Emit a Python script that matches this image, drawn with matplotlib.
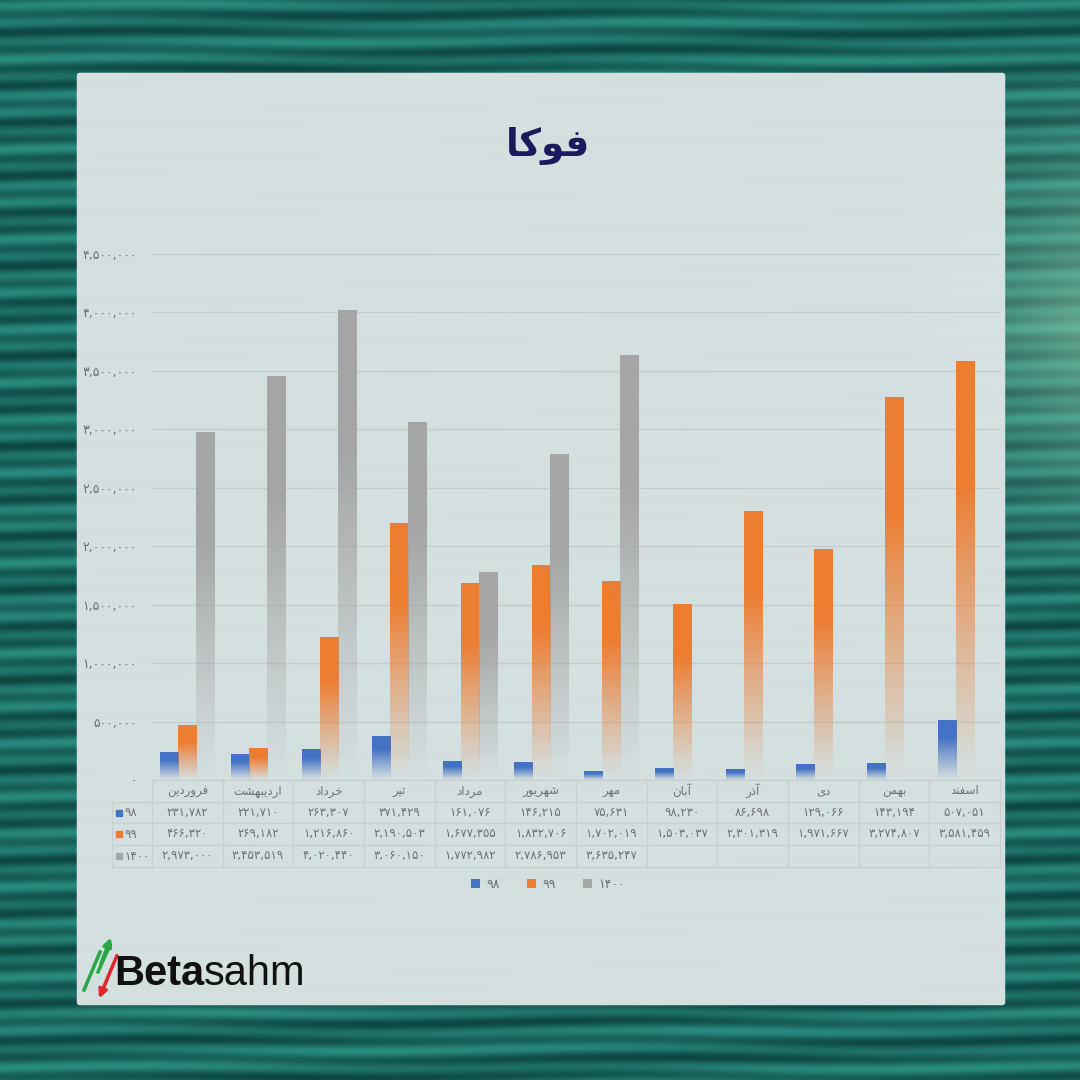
import numpy as np
import matplotlib
matplotlib.use("Agg")
import matplotlib.pyplot as plt
from matplotlib.patches import FancyBboxPatch, Patch
from matplotlib.transforms import blended_transform_factory
from matplotlib.colors import to_rgb
from matplotlib import font_manager
from matplotlib.ft2font import FT2Font

# داده ها
months = ['فروردین', 'اردیبهشت', 'خرداد', 'تیر', 'مرداد', 'شهریور',
          'مهر', 'آبان', 'آذر', 'دی', 'بهمن', 'اسفند']
s98 = [231782, 221710, 263307, 371429, 161076, 146215,
       75631, 98230, 86698, 129066, 143194, 507051]
s99 = [466320, 269182, 1216860, 2190503, 1677355, 1832706,
       1702019, 1503037, 2301319, 1971667, 3274807, 3581459]
s1400 = [2973000, 3453519, 4020440, 3060150, 1772982, 2786953,
         3635247, None, None, None, None, None]
series_names = ['98', '99', '1400']
yticks = [0, 500000, 1000000, 1500000, 2000000, 2500000,
          3000000, 3500000, 4000000, 4500000]
title = 'فوکا'

colors = ['#4472c4', '#ed7d31', '#a5a5a5']
text_gray = '#707070'

# --- شکل دهی حروف فارسی (matplotlib خودش حروف را نمی چسباند) ---
reg_cmap = FT2Font(font_manager.findfont('DejaVu Sans')).get_charmap()
bold_path = font_manager.findfont(font_manager.FontProperties(family='DejaVu Sans', weight='bold'))
bold_cmap = FT2Font(bold_path).get_charmap()

FORMS = {
    'ا': ('\uFE8D', '\uFE8E', None, None),
    'آ': ('\uFE81', '\uFE82', None, None),
    'ب': ('\uFE8F', '\uFE90', '\uFE91', '\uFE92'),
    'ت': ('\uFE95', '\uFE96', '\uFE97', '\uFE98'),
    'خ': ('\uFEA5', '\uFEA6', '\uFEA7', '\uFEA8'),
    'د': ('\uFEA9', '\uFEAA', None, None),
    'ذ': ('\uFEAB', '\uFEAC', None, None),
    'ر': ('\uFEAD', '\uFEAE', None, None),
    'س': ('\uFEB1', '\uFEB2', '\uFEB3', '\uFEB4'),
    'ش': ('\uFEB5', '\uFEB6', '\uFEB7', '\uFEB8'),
    'ف': ('\uFED1', '\uFED2', '\uFED3', '\uFED4'),
    'م': ('\uFEE1', '\uFEE2', '\uFEE3', '\uFEE4'),
    'ن': ('\uFEE5', '\uFEE6', '\uFEE7', '\uFEE8'),
    'ه': ('\uFEE9', '\uFEEA', '\uFEEB', '\uFEEC'),
    'و': ('\uFEED', '\uFEEE', None, None),
    'ی': ('\uFBFC', '\uFBFD', '\uFBFE', '\uFBFF'),
    'ک': ('\uFB8E', '\uFB8F', '\uFB90', '\uFB91'),
}
FALLBACK = {
    'ی': ('\uFEEF', '\uFEF0', '\uFEF3', '\uFEF4'),
    'ک': ('\uFED9', '\uFEDA', '\uFEDB', '\uFEDC'),
}
DUAL = set('بتخسشفکمنهی')


def shape(word, cmap=reg_cmap):
    out = []
    for i, ch in enumerate(word):
        forms = FORMS[ch]
        if ord(forms[0]) not in cmap and ch in FALLBACK:
            forms = FALLBACK[ch]
        prev_j = i > 0 and word[i - 1] in DUAL
        next_j = ch in DUAL and i < len(word) - 1 and word[i + 1] in FORMS
        if prev_j and next_j:
            g = forms[3]
        elif prev_j:
            g = forms[1]
        elif next_j:
            g = forms[2]
        else:
            g = forms[0]
        out.append(g)
    return ''.join(reversed(out))


fa = str.maketrans('0123456789', '۰۱۲۳۴۵۶۷۸۹')


def fnum(v):
    return '{:,}'.format(v).translate(fa)


def fx(px):
    return px / 1080


def fy(py):
    return 1 - py / 1080


fig = plt.figure(figsize=(10.8, 10.8), dpi=100)

# پس زمینه
bg = fig.add_axes([0, 0, 1, 1], zorder=-10)
yy, xx = np.mgrid[0:540, 0:540]
stripe = (0.5 + 0.3 * np.sin(yy * 2 * np.pi / 9.0 + 0.6 * np.sin(xx / 40.0))
          + 0.2 * np.sin(yy * 2 * np.pi / 23.0 + xx / 70.0))
dark = np.array(to_rgb('#0c4542'))
mid = np.array(to_rgb('#2a8c80'))
light = np.array(to_rgb('#8fcfae'))
img = dark + (mid - dark) * np.clip(stripe, 0, 1)[..., None]
glow = np.clip((xx - 440) / 100.0, 0, 1) * np.clip(1 - np.abs(yy - 160) / 140.0, 0, 1)
img = img + (light - img) * (0.6 * glow)[..., None]
bg.imshow(np.clip(img, 0, 1), extent=[0, 1, 0, 1], aspect='auto', interpolation='bilinear')
bg.axis('off')

panel = FancyBboxPatch((fx(80), fy(1002)), fx(922), fy(76) - fy(1002),
                       boxstyle='round,pad=0.003', transform=fig.transFigure,
                       facecolor='#dde5e6', edgecolor='none', alpha=0.96, zorder=-5)
fig.patches.append(panel)

fig.text(fx(548), fy(146), shape(title, bold_cmap), ha='center', va='center',
         fontsize=27, fontweight='bold' if 0xFED3 in bold_cmap else 'normal',
         color='#1d1a5c')

# نمودار
ax = fig.add_axes([fx(152), fy(780), fx(1000) - fx(152), fy(254) - fy(780)])
ax.set_facecolor('none')
x = np.arange(len(months))
w = 0.255
fade = np.linspace(0, 1, 256)
alpha = np.clip(fade / 0.7, 0, 1) ** 1.1
for k, vals in enumerate([s98, s99, s1400]):
    for i, v in enumerate(vals):
        if v is None:
            continue
        rgba = np.zeros((256, 1, 4))
        rgba[..., :3] = to_rgb(colors[k])
        rgba[:, 0, 3] = alpha
        xc = x[i] + (k - 1) * w
        ax.imshow(rgba, extent=[xc - w / 2, xc + w / 2, 0, v], origin='lower',
                  aspect='auto', interpolation='bilinear', zorder=3)

ax.set_xlim(-0.5, len(months) - 0.5)
ax.set_ylim(0, 4500000)
ax.set_yticks(yticks)
ax.set_yticklabels([fnum(t) for t in yticks])
ax.set_xticks([])
ax.tick_params(axis='y', length=0, pad=11, labelsize=9, labelcolor=text_gray)
ax.yaxis.grid(True, color='#c6cccc', lw=1)
ax.set_axisbelow(True)
for s in ax.spines.values():
    s.set_visible(False)

# جدول داده
tr = blended_transform_factory(ax.transData, fig.transFigure)
line_c = '#c9d0d1'
rows_y = [780, 802, 823, 845, 867]
x_left = -0.5 - 40 / 70.7
for j, py in enumerate(rows_y):
    x0 = -0.5 if j == 0 else x_left
    ax.plot([x0, 11.5], [fy(py)] * 2, color=line_c, lw=1, transform=tr, clip_on=False)
for b in np.arange(-0.5, 12.0, 1.0):
    ax.plot([b, b], [fy(780), fy(867)], color=line_c, lw=1, transform=tr, clip_on=False)
ax.plot([x_left] * 2, [fy(802), fy(867)], color=line_c, lw=1, transform=tr, clip_on=False)

for i, m in enumerate(months):
    ax.text(x[i], fy(791), shape(m), ha='center', va='center', fontsize=8.5,
            color=text_gray, transform=tr)
for k, vals in enumerate([s98, s99, s1400]):
    cy = fy((rows_y[k + 1] + rows_y[k + 2]) / 2)
    ax.plot([x_left + 0.1], [cy], marker='s', ms=5, color=colors[k], transform=tr, clip_on=False)
    ax.text(x_left + 0.18, cy, series_names[k].translate(fa), ha='left', va='center',
            fontsize=8.5, color=text_gray, transform=tr)
    for i, v in enumerate(vals):
        if v is None:
            continue
        ax.text(x[i], cy, fnum(v), ha='center', va='center', fontsize=8.5,
                color=text_gray, transform=tr)

handles = [Patch(facecolor=c, edgecolor='none') for c in colors]
fig.legend(handles, [n.translate(fa) for n in series_names], loc='center',
           bbox_to_anchor=(fx(548), fy(884)), ncol=3, frameon=False, fontsize=9,
           handlelength=0.7, handleheight=0.7, handletextpad=0.5, columnspacing=2.2,
           labelcolor=text_gray)

# لوگو
fig.text(fx(114), fy(985), 'Beta', fontsize=30, fontweight='bold', color='#111111',
         family='Liberation Sans', ha='left', va='baseline')
fig.text(fx(204), fy(985), 'sahm', fontsize=30, color='#111111',
         family='Liberation Sans', ha='left', va='baseline')
fig.add_artist(plt.Line2D([fx(84), fx(100)], [fy(990), fy(952)],
                          color='#27a844', lw=2.5, transform=fig.transFigure))
fig.add_artist(plt.Line2D([fx(98), fx(110)], [fy(972), fy(945)],
                          color='#27a844', lw=2.5, transform=fig.transFigure))
ax.annotate('', xy=(fx(112), fy(935)), xytext=(fx(100), fy(966)),
            xycoords='figure fraction', textcoords='figure fraction',
            arrowprops=dict(arrowstyle='-|>', color='#27a844', lw=2.5, mutation_scale=12))
ax.annotate('', xy=(fx(98), fy(1001)), xytext=(fx(118), fy(953)),
            xycoords='figure fraction', textcoords='figure fraction',
            arrowprops=dict(arrowstyle='-|>', color='#e0262b', lw=2.5, mutation_scale=12))

fig.savefig('out.png', dpi=100)
